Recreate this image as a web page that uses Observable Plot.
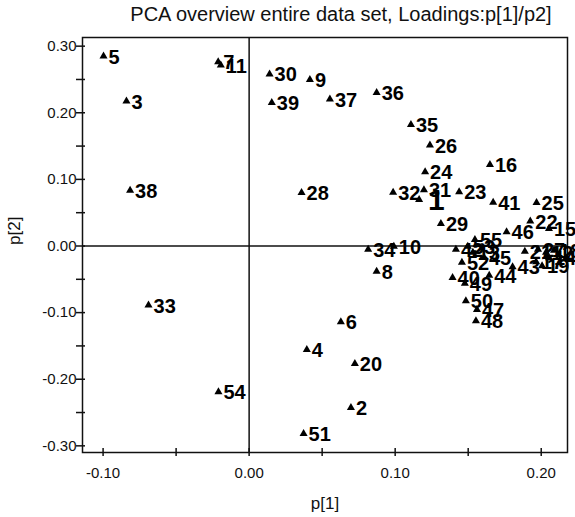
<!DOCTYPE html>
<html>
<head>
<meta charset="utf-8">
<script src="https://cdn.jsdelivr.net/npm/d3@7"></script>
<script src="https://cdn.jsdelivr.net/npm/@observablehq/plot@0.6"></script>
<style>
  html, body { margin: 0; padding: 0; background: white; }
  #title { width: 575px; box-sizing: border-box; padding-left: 107px; height: 28px; line-height: 28px;
           text-align: center; font-family: "Liberation Sans", Arial, sans-serif; font-size: 20px; color: #111; }
</style>
</head>
<body>
<div id="title">PCA overview entire data set, Loadings:p[1]/p2]</div>
<div id="chart"></div>
<script>
// Variable ids and their loadings
const ids = [1,2,3,4,5,6,7,8,9,10,11,12,13,14,15,16,17,18,19,20,21,22,23,24,25,26,27,28,29,30,31,32,33,34,35,36,37,38,39,40,41,42,43,44,45,46,47,48,49,50,51,52,53,54,55];
const p1 = [0.1164,0.0697,-0.0840,0.0395,-0.0997,0.0628,-0.0212,0.0873,0.0416,0.0991,-0.0194,0.2033,0.1532,0.2053,0.2053,0.1649,0.1965,0.2088,0.2006,0.0724,0.1888,0.1925,0.1438,0.1205,0.1968,0.1238,0.1978,0.0359,0.1313,0.0140,0.1197,0.0986,-0.0689,0.0815,0.1108,0.0873,0.0553,-0.0815,0.0155,0.1393,0.1671,0.1416,0.1804,0.1644,0.1608,0.1763,0.1560,0.1553,0.1477,0.1484,0.0373,0.1457,0.1497,-0.0210,0.1546];
const p2 = [0.0697,-0.2427,0.2173,-0.1556,0.2849,-0.1141,0.2763,-0.0380,0.2498,-0.0005,0.2713,-0.0095,-0.0095,-0.0180,0.0260,0.1222,-0.0240,-0.0065,-0.0300,-0.1766,-0.0080,0.0371,0.0811,0.1111,0.0652,0.1512,-0.0050,0.0802,0.0336,0.2581,0.0841,0.0806,-0.0890,-0.0050,0.1823,0.2303,0.2203,0.0836,0.2153,-0.0475,0.0656,-0.0050,-0.0315,-0.0440,-0.0170,0.0210,-0.0955,-0.1126,-0.0560,-0.0826,-0.2817,-0.0245,-0.0005,-0.2192,0.0096];

const xMajor = [-0.1, 0, 0.1, 0.2];
const xMinor = [-0.05, 0.05, 0.15];
const yMajor = [-0.3, -0.2, -0.1, 0, 0.1, 0.2, 0.3];
const yMinor = [-0.25, -0.15, -0.05, 0.05, 0.15, 0.25];
const xDomain = [-0.1141, 0.218];
const yDomain = [-0.310, 0.313];

const data = ids.map((id, i) => ({id, p1: p1[i], p2: p2[i]}));
const fmt = d => d.toFixed(2);

const chart = Plot.plot({
  width: 575,
  height: 489,
  marginTop: 9,
  marginBottom: 65,
  marginLeft: 82,
  marginRight: 8,
  style: {fontFamily: "Liberation Sans, Arial, sans-serif", fontSize: "15px", color: "#111", background: "white"},
  x: {domain: xDomain, label: null},
  y: {domain: yDomain, label: null},
  marks: [
    Plot.ruleX([0], {stroke: "#111", strokeWidth: 1.5}),
    Plot.ruleY([0], {stroke: "#111", strokeWidth: 1.5}),
    Plot.frame({stroke: "#111", strokeWidth: 1.5}),
    // tick marks crossing the frame
    Plot.axisX([...xMajor, ...xMinor], {anchor: "bottom", tickSize: 8, dy: -4, tickFormat: () => "", strokeWidth: 1.5}),
    Plot.axisY([...yMajor, ...yMinor], {anchor: "left", tickSize: 9, dx: 3, tickFormat: () => "", strokeWidth: 1.5}),
    // tick labels
    Plot.axisX(xMajor, {anchor: "bottom", tickSize: 0, tickPadding: 15, tickFormat: fmt, fontSize: 15}),
    Plot.axisY(yMajor, {anchor: "left", tickSize: 0, tickPadding: 6, tickFormat: fmt, fontSize: 15}),
    // axis titles
    Plot.text(["p[1]"], {frameAnchor: "bottom", dy: 56, fontSize: 17, fill: "#111"}),
    Plot.text(["p[2]"], {frameAnchor: "left", dx: -68, rotate: -90, fontSize: 17, fill: "#111"}),
    // points
    Plot.dot(data, {x: "p1", y: "p2", symbol: "triangle", r: 3, fill: "#000", stroke: "none"}),
    Plot.text(data.filter(d => d.id !== 1), {x: "p1", y: "p2", text: d => String(d.id), textAnchor: "start", dx: 5, dy: 1,
      fontSize: 20, fontWeight: "bold", fill: "#000"}),
    Plot.text(data.filter(d => d.id === 1), {x: "p1", y: "p2", text: d => String(d.id), textAnchor: "start", dx: 9, dy: 1,
      fontSize: 30, fontWeight: "bold", fill: "#000"})
  ]
});
document.getElementById("chart").appendChild(chart);
</script>
</body>
</html>
